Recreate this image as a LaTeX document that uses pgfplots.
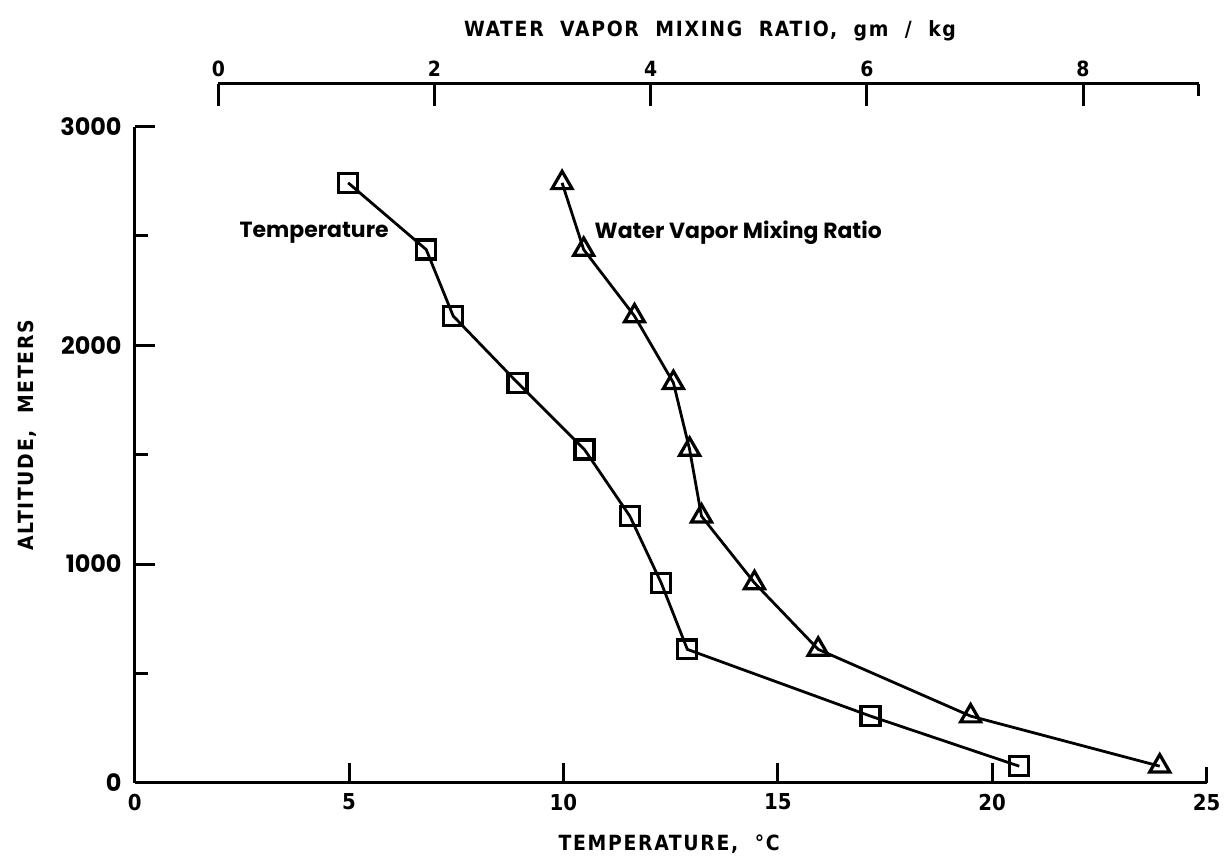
\documentclass[border=0pt]{standalone}
\usepackage{pgfplots}
\pgfplotsset{compat=1.18}
\usepackage{pgfplotstable}
\usepackage{fontspec}
\setmainfont{DejaVu Sans Condensed}
\newfontfamily\geofont{Poppins}
\newfontfamily\titlefont[LetterSpace=8,WordSpace=2]{DejaVu Sans Condensed}
\newfontfamily\tickfont{DejaVu Sans Condensed}

\pgfplotstableread{
T alt
4.98 2743
6.80 2438
7.43 2134
8.93 1829
10.49 1524
11.55 1219
12.28 914
12.89 610
17.16 305
20.63 76
}\temptable

\pgfplotstableread{
W alt
3.18 2743
3.38 2438
3.85 2134
4.21 1829
4.36 1524
4.47 1219
4.96 914
5.55 610
6.96 305
8.71 76
}\mixtable

\begin{document}
\begin{tikzpicture}
\path (-67.5pt,-40pt) rectangle (546pt,392.5pt);
\begin{axis}[
  at={(0pt,0pt)}, anchor=south west,
  scale only axis, width=537.5pt, height=329pt,
  xmin=0, xmax=25, ymin=0, ymax=3000,
  axis x line=bottom, axis y line=left,
  axis line style={-, line width=1.7pt},
  xtick={0,5,10,15,20},
  extra x ticks={25}, extra x tick labels={25},
  extra x tick style={major tick length=8pt},
  ytick={0,1000,2000,3000},
  minor ytick={500,1500,2500},
  tick align=inside,
  major tick length=10pt, minor tick length=6.5pt,
  tick style={black, line width=1.5pt},
  /pgf/number format/assume math mode=true,
  /pgf/number format/1000 sep={},
  xticklabel style={font=\tickfont\bfseries\fontsize{11}{11}\selectfont, yshift=-2pt},
  yticklabel style={font=\geofont\bfseries\fontsize{12}{12}\selectfont, xshift=-3pt},
  xlabel={TEMPERATURE, °C},
  ylabel={ALTITUDE, METERS},
  xlabel style={font=\titlefont\bfseries\fontsize{10.5}{11}\selectfont, at={(axis description cs:0.4986,-0.0942)}, anchor=center},
  ylabel style={font=\titlefont\bfseries\fontsize{10.5}{11}\selectfont, at={(axis description cs:-0.100,0.53)}, anchor=center},
  clip=false,
]
\addplot[black, line width=1.4pt, mark=square, mark size=4.75pt, mark options={fill=white, line width=1.6pt}] table[x=T, y=alt]{\temptable};
\node[anchor=west, inner sep=0pt, font=\geofont\bfseries\fontsize{11}{11}\selectfont] at (axis cs:2.44,2517) {Temperature};
\node[anchor=west, inner sep=0pt, font=\geofont\bfseries\fontsize{11}{11}\selectfont] at (axis cs:10.72,2517) {Water Vapor Mixing Ratio};
\end{axis}
\begin{axis}[
  at={(42pt,0pt)}, anchor=south west,
  scale only axis, width=491.5pt, height=350.5pt,
  xmin=0, xmax=9.07, ymin=0, ymax=3196.05,
  axis x line=top, axis y line=none,
  axis line style={-, line width=1.7pt},
  xtick={0,2,4,6,8},
  extra x ticks={9.07}, extra x tick labels={},
  extra x tick style={major tick length=6pt},
  tick align=inside, major tick length=11pt,
  tick style={black, line width=1.5pt},
  /pgf/number format/assume math mode=true,
  xticklabel style={font=\tickfont\bfseries\fontsize{10.5}{10.5}\selectfont},
  xlabel={WATER VAPOR MIXING RATIO, gm / kg},
  xlabel style={font=\titlefont\bfseries\fontsize{10.5}{11}\selectfont, at={(axis description cs:0.5015,1.0756)}, anchor=center},
  clip=false,
]
\addplot[black, line width=1.4pt, mark=triangle, mark size=5.8pt, mark options={fill=white, line width=1.6pt}] table[x=W, y=alt]{\mixtable};
\end{axis}
\end{tikzpicture}
\end{document}
